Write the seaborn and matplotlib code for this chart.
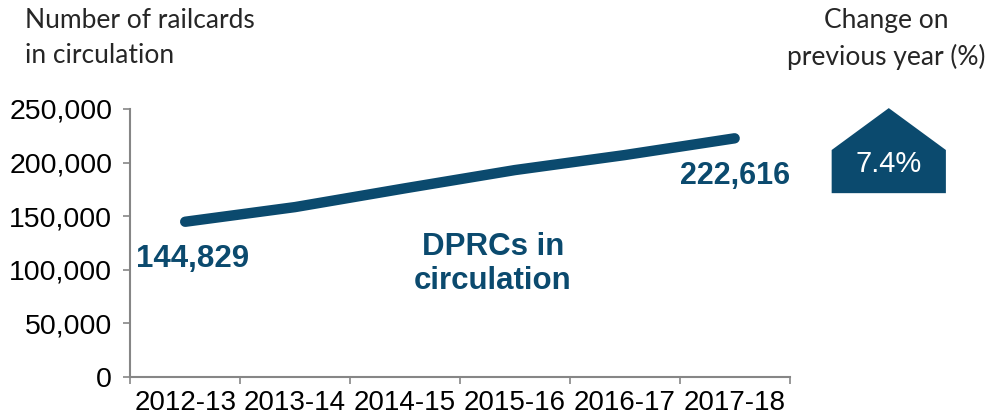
import matplotlib
matplotlib.use("Agg")
import matplotlib.pyplot as plt
import matplotlib.ticker as mticker
from matplotlib.patches import Polygon
import seaborn as sns
import pandas as pd

years = ["2012-13", "2013-14", "2014-15", "2015-16", "2016-17", "2017-18"]
railcards = [144829, 158500, 176000, 193000, 207000, 222616]
change_pct = 7.4

navy = "#0b4a6e"
grey = "#868686"

sns.set_theme(style="white")
plt.rcParams["font.family"] = ["Liberation Sans", "DejaVu Sans"]

df = pd.DataFrame({"year": years, "cards": railcards})

fig = plt.figure(figsize=(10.02, 4.19), dpi=100)
ax = fig.add_axes([0.13, 0.1, 0.658, 0.64])

sns.lineplot(data=df, x="year", y="cards", ax=ax, color=navy, linewidth=7.5,
             solid_capstyle="round", sort=False)

ax.set_xlim(-0.5, len(years) - 0.5)
ax.set_ylim(0, 250000)
ax.set_xlabel("")
ax.set_ylabel("")

ax.yaxis.set_major_locator(mticker.MultipleLocator(50000))
ax.yaxis.set_major_formatter(mticker.FuncFormatter(lambda v, p: f"{int(v):,}"))
ax.tick_params(axis="y", left=True, length=5, width=1.2, color=grey, pad=8,
               labelsize=20.5, labelcolor="black")

ax.set_xticks([i - 0.5 for i in range(len(years) + 1)])
ax.set_xticklabels([])
ax.set_xticks(range(len(years)), minor=True)
ax.set_xticklabels(years, minor=True)
ax.tick_params(axis="x", which="major", bottom=True, length=5, width=1.2, color=grey)
ax.tick_params(axis="x", which="minor", bottom=False, length=0, pad=9,
               labelsize=20, labelcolor="black")

for s in ["top", "right"]:
    ax.spines[s].set_visible(False)
for s in ["left", "bottom"]:
    ax.spines[s].set_color(grey)
    ax.spines[s].set_linewidth(1.5)

# value labels at the ends
ax.annotate(f"{railcards[0]:,}", (0, railcards[0]), xytext=(5, -27),
            textcoords="offset points", ha="center", va="center",
            fontsize=22.5, fontweight="bold", color=navy)
ax.annotate(f"{railcards[-1]:,}", (len(years) - 1, railcards[-1]), xytext=(0, -27),
            textcoords="offset points", ha="center", va="center",
            fontsize=22, fontweight="bold", color=navy)

ax.text(2.8, 105500, "DPRCs in\ncirculation", ha="center", va="center",
        fontsize=22.5, fontweight="bold", color=navy, linespacing=1.15)

# headings
fig.text(0.025, 0.98, "Number of railcards\nin circulation", ha="left", va="top",
         fontsize=19, family=["Lato", "DejaVu Sans"], linespacing=1.5)
fig.text(0.884, 0.98, "Change on\nprevious year (%)", ha="center", va="top",
         fontsize=19, family=["Lato", "DejaVu Sans"], linespacing=1.5)

# arrow box for the yearly change
pent = Polygon([(0.830, 0.539), (0.830, 0.642), (0.887, 0.742), (0.944, 0.642), (0.944, 0.539)],
               closed=True, transform=fig.transFigure, facecolor=navy, edgecolor="none")
fig.patches.append(pent)
fig.text(0.887, 0.608, f"{change_pct}%", ha="center", va="center", fontsize=21, color="white")

fig.savefig("out.png", dpi=100)
